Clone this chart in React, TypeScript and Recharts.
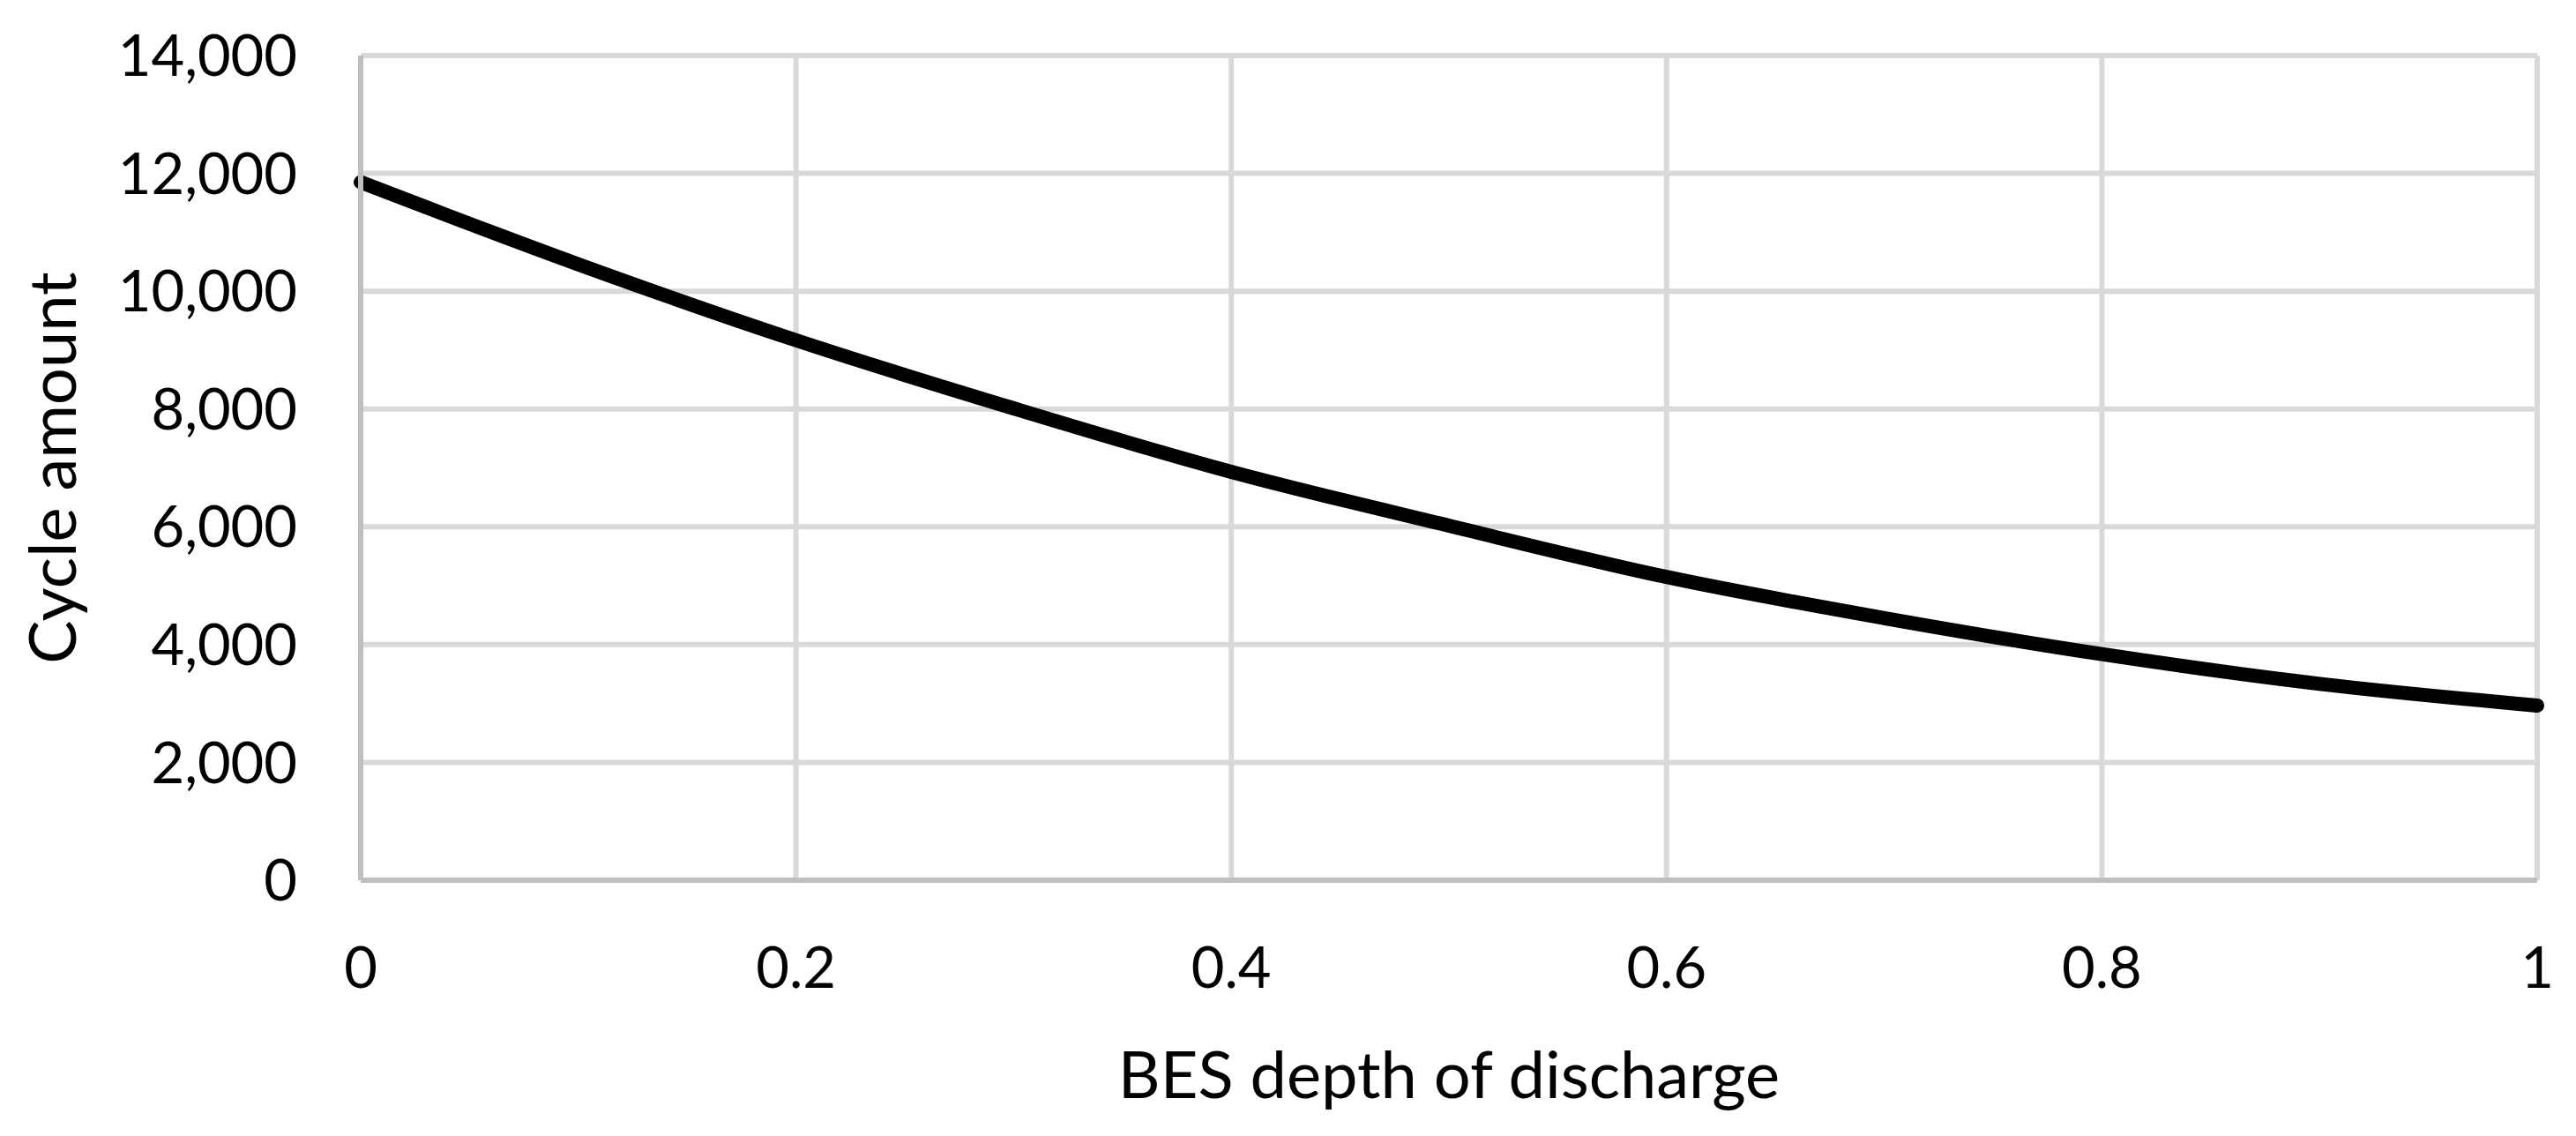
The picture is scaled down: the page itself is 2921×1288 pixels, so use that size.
import React from 'react';
import { LineChart, Line, XAxis, YAxis, CartesianGrid } from 'recharts';

const depthOfDischarge = [0, 0.1, 0.2, 0.3, 0.4, 0.5, 0.6, 0.7, 0.8, 0.9, 1];
const cycleAmount = [11850, 10456, 9167, 8011, 6933, 6019, 5148, 4450, 3838, 3334, 2965];
const xTicks = [0, 0.2, 0.4, 0.6, 0.8, 1];
const yTicks = [0, 2000, 4000, 6000, 8000, 10000, 12000, 14000];
const xTitle = 'BES depth of discharge';
const yTitle = 'Cycle amount';

const data = depthOfDischarge.map((x, i) => ({ x, y: cycleAmount[i] }));

const FONT = 'Lato, "Open Sans", sans-serif';
const FS = 65;
const TITLE_FS = 74;

const fmtY = (v: number) => v.toLocaleString('en-US');
const fmtX = (v: number) => String(v);

const XTitle = (props: any) => {
  const vb = props.viewBox || {};
  return (
    <text x={vb.x + vb.width / 2} y={1245} textAnchor="middle" fontFamily={FONT} fontSize={TITLE_FS} fill="#000">
      {xTitle}
    </text>
  );
};

const YTitle = (props: any) => {
  const vb = props.viewBox || {};
  const cx = 86;
  const cy = vb.y + vb.height / 2;
  return (
    <text
      x={cx}
      y={cy}
      textAnchor="middle"
      transform={`rotate(-90, ${cx}, ${cy})`}
      fontFamily={FONT}
      fontSize={TITLE_FS}
      fill="#000"
    >
      {yTitle}
    </text>
  );
};

export default function App() {
  return (
    <div style={{ position: 'absolute', left: 0, top: 0, width: 2921, height: 1288, background: '#fff' }}>
      <LineChart width={2921} height={1288} data={data} margin={{ top: 63, right: 44, bottom: 0, left: 0 }}>
        <CartesianGrid stroke="#d9d9d9" strokeWidth={6} />
        <XAxis
          dataKey="x"
          type="number"
          domain={[0, 1]}
          ticks={xTicks}
          tickFormatter={fmtX}
          height={290}
          axisLine={{ stroke: '#bfbfbf', strokeWidth: 6 }}
          tickLine={false}
          tickSize={0}
          tickMargin={76}
          tick={{ fontFamily: FONT, fontSize: FS, fill: '#000' }}
          interval={0}
          label={<XTitle />}
        />
        <YAxis
          type="number"
          domain={[0, 14000]}
          ticks={yTicks}
          tickFormatter={fmtY}
          width={409}
          axisLine={{ stroke: '#bfbfbf', strokeWidth: 6 }}
          tickLine={false}
          tickSize={0}
          tickMargin={72}
          tick={{ fontFamily: FONT, fontSize: FS, fill: '#000' }}
          interval={0}
          label={<YTitle />}
        />
        <Line
          type="monotone"
          dataKey="y"
          stroke="#000"
          strokeWidth={16}
          strokeLinecap="round"
          strokeLinejoin="round"
          dot={false}
          activeDot={false}
          isAnimationActive={false}
        />
      </LineChart>
    </div>
  );
}
